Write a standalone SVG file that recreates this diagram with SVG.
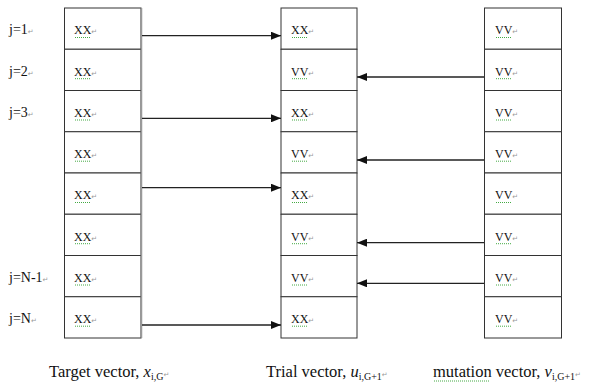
<svg xmlns="http://www.w3.org/2000/svg" width="597" height="383" viewBox="0 0 597 383">
<style>
text{font-family:"Liberation Serif","Times New Roman",serif;fill:#111}
.cell{fill:#fff;stroke:#333;stroke-width:1}
.edge{stroke:#999;stroke-width:1.5}
.v{font-size:12px}
.j{font-size:14px}
.cap{font-size:16.5px}
.pm{font-family:"DejaVu Sans",sans-serif;font-size:7px;fill:#999}
.sq{stroke:#4a4;stroke-width:1;stroke-dasharray:1 1;fill:none}
.ar{stroke:#222;stroke-width:1.3;fill:none}
</style>
<defs>
<marker id="ah" markerUnits="userSpaceOnUse" markerWidth="10" markerHeight="8" refX="10" refY="4" orient="auto">
<path d="M0,0 L10,4 L0,8 Z" fill="#111"/>
</marker>
</defs>
<g id="labels">
<text class="j" x="9" y="34.3">j=1<tspan class="pm">↵</tspan></text>
<text class="j" x="9" y="75.5">j=2<tspan class="pm">↵</tspan></text>
<text class="j" x="9" y="116.8">j=3<tspan class="pm">↵</tspan></text>
<text class="j" x="9" y="281.5">j=N-1<tspan class="pm">↵</tspan></text>
<text class="j" x="9" y="322.5">j=N<tspan class="pm">↵</tspan></text>
</g>
<g id="target">
<rect class="cell" x="64.5" y="8" width="76.5" height="41.25"/>
<rect class="cell" x="64.5" y="49.25" width="76.5" height="41.25"/>
<rect class="cell" x="64.5" y="90.5" width="76.5" height="41.25"/>
<rect class="cell" x="64.5" y="131.75" width="76.5" height="41.25"/>
<rect class="cell" x="64.5" y="173" width="76.5" height="41.25"/>
<rect class="cell" x="64.5" y="214.25" width="76.5" height="41.25"/>
<rect class="cell" x="64.5" y="255.5" width="76.5" height="41.25"/>
<rect class="cell" x="64.5" y="296.75" width="76.5" height="41.25"/>
<line class="edge" x1="141.5" y1="8" x2="141.5" y2="338"/>
<text class="v" x="74" y="34.3">XX<tspan class="pm">↵</tspan></text>
<text class="v" x="74" y="75.5">XX<tspan class="pm">↵</tspan></text>
<text class="v" x="74" y="116.8">XX<tspan class="pm">↵</tspan></text>
<text class="v" x="74" y="158">XX<tspan class="pm">↵</tspan></text>
<text class="v" x="74" y="199.3">XX<tspan class="pm">↵</tspan></text>
<text class="v" x="74" y="240.5">XX<tspan class="pm">↵</tspan></text>
<text class="v" x="74" y="281.8">XX<tspan class="pm">↵</tspan></text>
<text class="v" x="74" y="323">XX<tspan class="pm">↵</tspan></text>
<path class="sq" d="M75,37.5h16M75,78.7h16M75,120h16M75,161.2h16M75,202.5h16M75,243.7h16M75,285h16M75,326.2h16"/>
</g>
<g id="trial">
<rect class="cell" x="281" y="8" width="76" height="41.25"/>
<rect class="cell" x="281" y="49.25" width="76" height="41.25"/>
<rect class="cell" x="281" y="90.5" width="76" height="41.25"/>
<rect class="cell" x="281" y="131.75" width="76" height="41.25"/>
<rect class="cell" x="281" y="173" width="76" height="41.25"/>
<rect class="cell" x="281" y="214.25" width="76" height="41.25"/>
<rect class="cell" x="281" y="255.5" width="76" height="41.25"/>
<rect class="cell" x="281" y="296.75" width="76" height="41.25"/>
<text class="v" x="291" y="34.3">XX<tspan class="pm">↵</tspan></text>
<text class="v" x="291" y="75.5">VV<tspan class="pm">↵</tspan></text>
<text class="v" x="291" y="116.8">XX<tspan class="pm">↵</tspan></text>
<text class="v" x="291" y="158">VV<tspan class="pm">↵</tspan></text>
<text class="v" x="291" y="199.3">XX<tspan class="pm">↵</tspan></text>
<text class="v" x="291" y="240.5">VV<tspan class="pm">↵</tspan></text>
<text class="v" x="291" y="281.8">VV<tspan class="pm">↵</tspan></text>
<text class="v" x="291" y="323">XX<tspan class="pm">↵</tspan></text>
<path class="sq" d="M292,37.5h16M292,78.7h16M292,120h16M292,161.2h16M292,202.5h16M292,243.7h16M292,285h16M292,326.2h16"/>
</g>
<g id="mutation">
<rect class="cell" x="484.5" y="8" width="77" height="41.25"/>
<rect class="cell" x="484.5" y="49.25" width="77" height="41.25"/>
<rect class="cell" x="484.5" y="90.5" width="77" height="41.25"/>
<rect class="cell" x="484.5" y="131.75" width="77" height="41.25"/>
<rect class="cell" x="484.5" y="173" width="77" height="41.25"/>
<rect class="cell" x="484.5" y="214.25" width="77" height="41.25"/>
<rect class="cell" x="484.5" y="255.5" width="77" height="41.25"/>
<rect class="cell" x="484.5" y="296.75" width="77" height="41.25"/>
<text class="v" x="495" y="34.3">VV<tspan class="pm">↵</tspan></text>
<text class="v" x="495" y="75.5">VV<tspan class="pm">↵</tspan></text>
<text class="v" x="495" y="116.8">VV<tspan class="pm">↵</tspan></text>
<text class="v" x="495" y="158">VV<tspan class="pm">↵</tspan></text>
<text class="v" x="495" y="199.3">VV<tspan class="pm">↵</tspan></text>
<text class="v" x="495" y="240.5">VV<tspan class="pm">↵</tspan></text>
<text class="v" x="495" y="281.8">VV<tspan class="pm">↵</tspan></text>
<text class="v" x="495" y="323">VV<tspan class="pm">↵</tspan></text>
<path class="sq" d="M496,37.5h16M496,78.7h16M496,120h16M496,161.2h16M496,202.5h16M496,243.7h16M496,285h16M496,326.2h16"/>
</g>
<g id="connectors">
<line class="ar" x1="142" y1="35.7" x2="281" y2="35.7" marker-end="url(#ah)"/>
<line class="ar" x1="484" y1="77" x2="357" y2="77" marker-end="url(#ah)"/>
<line class="ar" x1="142" y1="118.3" x2="281" y2="118.3" marker-end="url(#ah)"/>
<line class="ar" x1="484" y1="160" x2="357" y2="160" marker-end="url(#ah)"/>
<line class="ar" x1="142" y1="187.7" x2="281" y2="187.7" marker-end="url(#ah)"/>
<line class="ar" x1="484" y1="242.7" x2="357" y2="242.7" marker-end="url(#ah)"/>
<line class="ar" x1="484" y1="283.3" x2="357" y2="283.3" marker-end="url(#ah)"/>
<line class="ar" x1="142" y1="325" x2="281" y2="325" marker-end="url(#ah)"/>
</g>
<g id="captions">
<text class="cap" x="49" y="377">Target vector, <tspan font-style="italic">x</tspan><tspan font-size="10" dy="3">i,G</tspan><tspan class="pm" dy="-3">↵</tspan></text>
<text class="cap" x="266" y="377">Trial vector, <tspan font-style="italic">u</tspan><tspan font-size="10" dy="3">i,G+1</tspan><tspan class="pm" dy="-3">↵</tspan></text>
<text class="cap" x="433" y="377">mutation vector, <tspan font-style="italic">v</tspan><tspan font-size="10" dy="3">i,G+1</tspan><tspan class="pm" dy="-3">↵</tspan></text>
<path class="sq" d="M434,381h56"/>
</g>
</svg>
